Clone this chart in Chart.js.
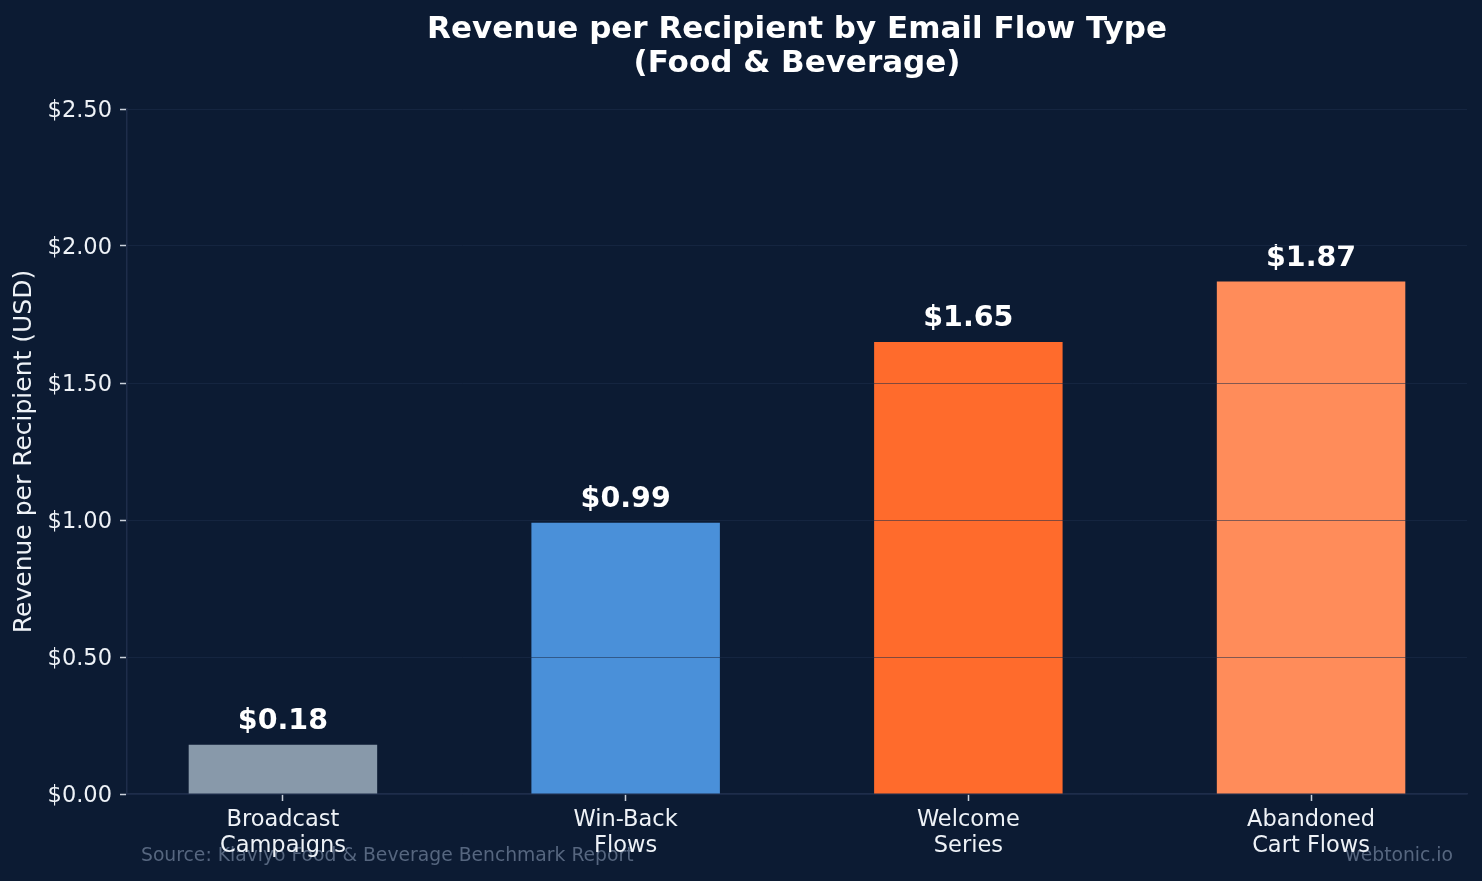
<!DOCTYPE html>
<html>
<head>
<meta charset="utf-8">
<script src="https://cdn.jsdelivr.net/npm/chart.js@4.4.1/dist/chart.umd.min.js"></script>
<style>
  html, body { margin: 0; padding: 0; background: #0c1b33; }
  canvas { display: block; }
</style>
</head>
<body>
<canvas id="flowChart" width="1482" height="881"></canvas>
<script>
// data
const categories = [['Broadcast', 'Campaigns'], ['Win-Back', 'Flows'], ['Welcome', 'Series'], ['Abandoned', 'Cart Flows']];
const revenuePerRecipient = [0.18, 0.99, 1.65, 1.87];
const barColors = ['#8899aa', '#4a90d9', '#ff6b2c', '#ff8c5a'];
const yTicks = [0, 0.5, 1.0, 1.5, 2.0, 2.5];

const titleLines = ['Revenue per Recipient by Email Flow Type', '(Food & Beverage)'];
const sourceText = 'Source: Klaviyo Food & Beverage Benchmark Report';
const brandText = 'webtonic.io';

const bg = '#0c1b33';
const font = 'DejaVu Sans';

// background, title and footer texts
const decorPlugin = {
    id: 'decor',
    beforeDraw(chart) {
        const ctx = chart.ctx;
        const area = chart.chartArea;
        ctx.save();
        ctx.fillStyle = bg;
        ctx.fillRect(0, 0, chart.width, chart.height);

        ctx.fillStyle = '#ffffff';
        ctx.font = 'bold 31px "' + font + '"';
        ctx.textAlign = 'center';
        ctx.textBaseline = 'alphabetic';
        const cx = (area.left + area.right) / 2;
        ctx.fillText(titleLines[0], cx, 38);
        ctx.fillText(titleLines[1], cx, 72);

        ctx.fillStyle = '#56667f';
        ctx.font = '18.75px "' + font + '"';
        ctx.textBaseline = 'middle';
        ctx.textAlign = 'left';
        ctx.fillText(sourceText, 141, 856);
        ctx.textAlign = 'right';
        ctx.fillText(brandText, 1453, 856);
        ctx.restore();
    }
};

// value labels above bars
const valueLabels = {
    id: 'valueLabels',
    afterDatasetsDraw(chart) {
        const ctx = chart.ctx;
        const meta = chart.getDatasetMeta(0);
        ctx.save();
        ctx.fillStyle = '#ffffff';
        ctx.font = 'bold 28.5px "' + font + '"';
        ctx.textAlign = 'center';
        ctx.textBaseline = 'alphabetic';
        meta.data.forEach((bar, i) => {
            ctx.fillText('$' + revenuePerRecipient[i].toFixed(2), bar.x, bar.y - 16);
        });
        ctx.restore();
    }
};

const flowCtx = document.getElementById('flowChart').getContext('2d');
const flowChart = new Chart(flowCtx, {
    type: 'bar',
    data: {
        datasets: [{
            label: 'Revenue per Recipient',
            data: revenuePerRecipient.map((v, i) => ({ x: i, y: v })),
            backgroundColor: barColors,
            borderWidth: 0,
            barPercentage: 0.55,
            categoryPercentage: 1.0
        }]
    },
    options: {
        responsive: false,
        animation: false,
        devicePixelRatio: 1,
        layout: {
            padding: { left: 0, right: 15, top: 109, bottom: 0 }
        },
        plugins: {
            legend: { display: false },
            title: { display: false },
            tooltip: { enabled: false }
        },
        scales: {
            x: {
                type: 'linear',
                offset: false,
                min: -0.455,
                max: categories.length - 1 + 0.455,
                afterFit(scale) { scale.height = 87; },
                afterBuildTicks(scale) {
                    scale.ticks = categories.map((c, i) => ({ value: i }));
                },
                ticks: {
                    stepSize: 1,
                    includeBounds: false,
                    color: '#eef2f7',
                    padding: 6,
                    font: { family: font, size: 22.5, lineHeight: 1.16 },
                    maxRotation: 0,
                    autoSkip: false,
                    callback: (v) => categories[v]
                },
                grid: {
                    offset: false,
                    drawOnChartArea: false,
                    drawTicks: true,
                    tickLength: 7,
                    tickColor: '#c9d0da',
                    tickWidth: 1.5
                },
                border: { color: '#1e2d4a', width: 1.5 }
            },
            y: {
                min: 0,
                max: 2.5,
                afterFit(scale) { scale.width = 127; },
                afterBuildTicks(scale) {
                    scale.ticks = yTicks.map(v => ({ value: v }));
                },
                ticks: {
                    color: '#eef2f7',
                    padding: 8,
                    labelOffset: 2,
                    font: { family: font, size: 22.5 },
                    callback: (v) => '$' + v.toFixed(2)
                },
                grid: {
                    z: 1,
                    color: 'rgba(30, 45, 74, 0.55)',
                    lineWidth: 1,
                    tickLength: 7,
                    tickColor: '#c9d0da',
                    tickWidth: 1.5
                },
                border: { z: 1, color: '#1e2d4a', width: 1.5 },
                title: {
                    display: true,
                    text: 'Revenue per Recipient (USD)',
                    color: '#eef2f7',
                    font: { family: font, size: 25 },
                    padding: { top: 9, bottom: 0 }
                }
            }
        }
    },
    plugins: [decorPlugin, valueLabels]
});
</script>
</body>
</html>
